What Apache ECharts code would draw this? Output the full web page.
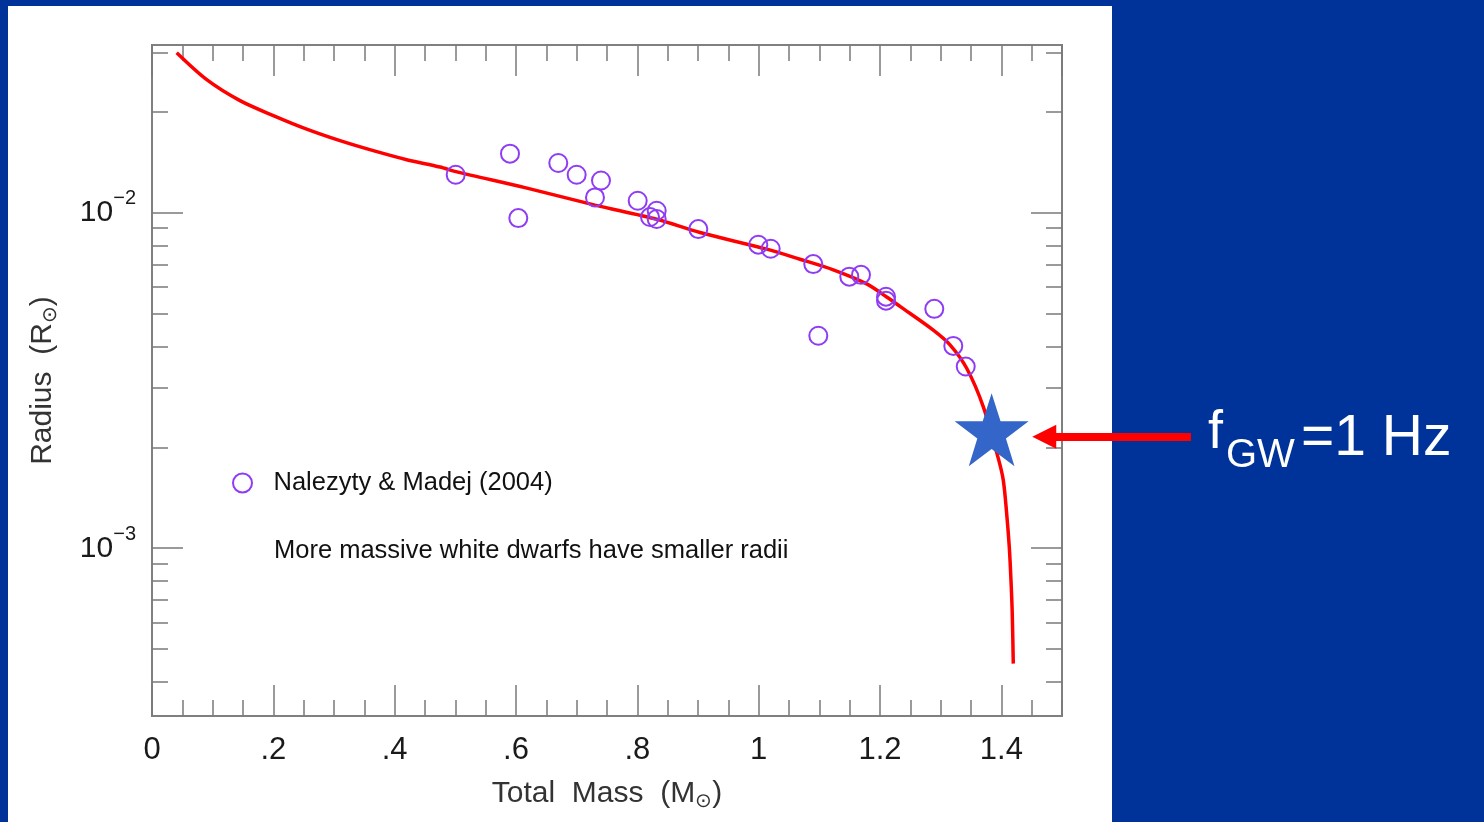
<!DOCTYPE html>
<html><head><meta charset="utf-8">
<script src="https://cdn.jsdelivr.net/npm/echarts@6/dist/echarts.min.js"></script>
<style>html,body{margin:0;padding:0;background:#003399;}#c{width:1484px;height:822px;}</style>
</head><body><div id="c"></div>
<script>
// Model curve (mass-radius relation)
const curveMass = [0.0407,0.0902,0.1451,0.2000,0.2550,0.3099,0.3648,0.4198,0.4747,0.5011,0.6148,0.7302,0.8319,0.9033,1.0132,1.0681,1.1230,1.1781,1.2110,1.2330,1.2878,1.3154,1.3429,1.3703,1.3950,1.4032,1.4088,1.4131,1.4159,1.4180,1.4197];
const curveRadius = [0.0300,0.02494,0.02159,0.01948,0.01775,0.01640,0.01531,0.01439,0.01369,0.01326,0.01188,0.01054,0.00956,0.00873,0.00779,0.00727,0.00676,0.00614,0.00561,0.00526,0.00447,0.00404,0.00344,0.00264,0.001853,0.001596,0.001269,0.001009,0.000803,0.000639,0.000453];
// Observed white dwarfs (Nalezyty & Madej 2004)
const obsMass = [0.5006,0.5901,0.6038,0.6697,0.7000,0.7401,0.7302,0.8006,0.8319,0.8209,0.8319,0.9005,0.9994,1.0198,1.0900,1.1494,1.1687,1.2099,1.2099,1.0983,1.2895,1.3208,1.3413];
const obsRadius = [0.01298,0.01500,0.00964,0.01407,0.01298,0.01248,0.01111,0.01086,0.01014,0.00971,0.00958,0.00894,0.00803,0.00781,0.00703,0.00645,0.00653,0.00562,0.00547,0.00430,0.00517,0.00401,0.00348];
// f_GW = 1 Hz point and arrow
const starMass = [1.384];
const starRadius = [0.002254];
const arrowMass = [1.7126, 1.4707];
const arrowRadius = [0.002148, 0.002148];
// Axis ticks
const yMajorTicks = [0.001, 0.01];
const yMinorTicks = [0.0004,0.0005,0.0006,0.0007,0.0008,0.0009,0.002,0.003,0.004,0.005,0.006,0.007,0.008,0.009,0.02,0.03];
const xMin = 0, xMax = 1.5, xMajorStep = 0.2, xMinorStep = 0.05;
const yMin = Math.pow(10, -3.5), yMax = Math.pow(10, -1.5);
const seriesName = 'Nalezyty & Madej (2004)';
const noteText = 'More massive white dwarfs have smaller radii';

const FONT = '"Liberation Sans", Arial, Helvetica, sans-serif';
const tickColor = '#7a7a7a';

function xAxisDef(pos, major) {
  return {
    type: 'value', position: pos, min: xMin, max: xMax,
    interval: major ? xMajorStep : xMinorStep,
    axisLine: { show: false, onZero: false }, splitLine: { show: false },
    axisTick: { show: true, inside: true, length: major ? 31 : 16, lineStyle: { color: tickColor, width: 1.5 } },
    axisLabel: (major && pos === 'bottom') ? {
      show: true, margin: 19, fontSize: 31, color: '#1a1a1a', fontFamily: FONT,
      showMaxLabel: false,
      formatter: v => v === 0 ? '0' : (v < 1 ? String(+v.toFixed(2)).replace(/^0/, '') : String(+v.toFixed(2)))
    } : { show: false },
    name: (major && pos === 'bottom') ? 'Total  Mass  (M{s|⊙})' : '',
    nameLocation: 'middle', nameGap: 61,
    nameTextStyle: { fontSize: 30, color: '#333', fontFamily: FONT,
      rich: { s: { fontSize: 20, color: '#333', padding: [14, 0, 0, 0] } } }
  };
}
function yAxisDef(pos, major) {
  return {
    type: 'log', logBase: 10, position: pos, min: yMin, max: yMax,
    axisLine: { show: false, onZero: false }, splitLine: { show: false },
    axisTick: { show: true, inside: true, length: major ? 31 : 16,
      customValues: major ? yMajorTicks : yMinorTicks,
      lineStyle: { color: tickColor, width: 1.5 } },
    axisLabel: (major && pos === 'left') ? {
      show: true, margin: 16, customValues: yMajorTicks, fontFamily: FONT,
      formatter: v => '{b|10}{s|−' + Math.round(-Math.log10(v)) + '}',
      rich: {
        b: { fontSize: 30, color: '#1a1a1a', fontFamily: FONT, lineHeight: 30, padding: [8, 0, 0, 0] },
        s: { fontSize: 20, color: '#1a1a1a', fontFamily: FONT, lineHeight: 20, padding: [0, 0, 20, 0] }
      },
      padding: [0, 0, 8, 0]
    } : { show: false },
    name: (major && pos === 'left') ? 'Radius  (R{s|⊙})' : '',
    nameLocation: 'middle', nameGap: 92,
    nameTextStyle: { fontSize: 30, color: '#333', fontFamily: FONT,
      rich: { s: { fontSize: 20, color: '#333', padding: [14, 0, 0, 0] } } }
  };
}

const chart = echarts.init(document.getElementById('c'), null, { renderer: 'canvas' });
chart.setOption({
  backgroundColor: '#003399',
  animation: false,
  grid: { left: 152, right: 422, top: 45, bottom: 106, show: true, borderColor: '#808080', borderWidth: 2, backgroundColor: 'transparent' },
  xAxis: [xAxisDef('bottom', true), xAxisDef('bottom', false), xAxisDef('top', true), xAxisDef('top', false)],
  yAxis: [yAxisDef('left', true), yAxisDef('left', false), yAxisDef('right', true), yAxisDef('right', false)],
  legend: {
    left: 232, top: 470, padding: 0, itemWidth: 52, itemHeight: 19, itemGap: 0,
    textStyle: { fontSize: 25.5, color: '#111', fontFamily: FONT },
    data: [{ name: seriesName, icon: 'circle', itemStyle: { color: 'transparent', borderColor: '#8f3cf5', borderWidth: 2, opacity: 1 } }]
  },
  graphic: [
    { type: 'rect', z: -10, shape: { x: 8, y: 6, width: 1104, height: 830 }, style: { fill: '#ffffff' }, silent: true },
    { type: 'text', left: 274, top: 538, style: { text: noteText, fontSize: 25.5, fill: '#111', fontFamily: FONT } },
    { type: 'text', left: 1208, top: 406, style: { text: 'f', fontSize: 54, fill: '#ffffff', fontFamily: FONT } },
    { type: 'text', left: 1226, top: 436, style: { text: 'GW', fontSize: 40, fill: '#ffffff', fontFamily: FONT } },
    { type: 'text', left: 1301, top: 411, style: { text: '=1 Hz', fontSize: 57, fill: '#ffffff', fontFamily: FONT } }
  ],
  series: [
    {
      type: 'line', name: 'model', xAxisIndex: 0, yAxisIndex: 0,
      data: curveMass.map((m, i) => [m, curveRadius[i]]),
      showSymbol: false, smooth: 0.3,
      lineStyle: { color: '#ff0000', width: 3.5 }, z: 3, silent: true
    },
    {
      type: 'scatter', name: seriesName, xAxisIndex: 0, yAxisIndex: 0,
      data: obsMass.map((m, i) => [m, obsRadius[i]]),
      symbol: 'circle', symbolSize: 18,
      itemStyle: { color: 'transparent', borderColor: '#8f3cf5', borderWidth: 2, opacity: 1 }, z: 4
    },
    {
      type: 'scatter', name: 'fGW', xAxisIndex: 0, yAxisIndex: 0,
      data: starMass.map((m, i) => [m, starRadius[i]]),
      symbol: 'path://M50,0 L61.8,35.1 L98.9,35.1 L68.9,56.8 L80.2,91.9 L50,70.2 L19.8,91.9 L31.1,56.8 L1.1,35.1 L38.2,35.1 Z',
      symbolSize: [74, 73], itemStyle: { color: '#3466c9', opacity: 1 }, z: 5, clip: false
    },
    {
      type: 'lines', name: 'arrow', coordinateSystem: 'cartesian2d', xAxisIndex: 0, yAxisIndex: 0,
      clip: false, silent: true, z: 6,
      symbol: ['none', 'triangle'], symbolSize: 24,
      lineStyle: { color: '#ff0000', width: 8, opacity: 1, curveness: 0 },
      itemStyle: { color: '#ff0000' },
      data: [{ coords: arrowMass.map((m, i) => [m, arrowRadius[i]]) }]
    }
  ]
});
</script>
</body></html>
